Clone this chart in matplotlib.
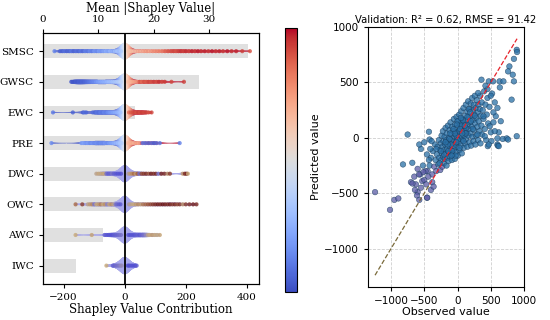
"""Shapley summary (beeswarm + mean |SHAP| bars) and validation scatter."""
import numpy as np
import matplotlib

matplotlib.use("Agg")
import matplotlib.pyplot as plt
from matplotlib.cm import ScalarMappable
from matplotlib.collections import PolyCollection
from matplotlib.colors import LinearSegmentedColormap, Normalize, to_rgba

features = ["SMSC", "GWSC", "EWC", "PRE", "DWC", "OWC", "AWC", "IWC"]
mean_abs_shap = [37.0, 28.1, 16.6, 15.5, 13.9, 13.9, 10.8, 5.9]

# values close to zero hidden under the violins (shared by every feature)
near_zero = [-9, -7, -5, -4, -3, -2, -2, -1, -1, 0, 0, 0, 1, 1, 2, 2, 3, 4, 5, 6, 8]
near_zero_feat = [0.38, 0.40, 0.42, 0.43, 0.44, 0.45, 0.46, 0.47, 0.48, 0.49, 0.50,
                  0.50, 0.51, 0.52, 0.53, 0.54, 0.55, 0.56, 0.57, 0.58, 0.60]
near_zero_feat_low = [0.06, 0.05, 0.04, 0.05, 0.03, 0.04, 0.02, 0.03, 0.05, 0.04, 0.03,
                      0.02, 0.04, 0.05, 0.03, 0.04, 0.06, 0.05, 0.04, 0.03, 0.05]

# per-feature SHAP values and (normalised) feature values
smsc_shap = [-230, -212, -205, -198, -190, -182, -175, -168, -160, -152, -145, -138, -130, -122, -115,
             -108, -100, -92, -85, -78, -70, -62, -55, -48, -40, -32, -25, -18, -12,
             12, 16, 22, 30, 38, 46, 55, 64, 73, 82, 92, 102, 112, 122, 132, 142, 152, 160, 168, 176,
             184, 192, 200, 210, 220, 230, 240, 250, 262, 274, 286, 298, 310, 322, 336, 350, 365, 385, 410]
smsc_feat = [0.12, 0.05, 0.05, 0.08, 0.05, 0.06, 0.10, 0.05, 0.08, 0.06, 0.10, 0.07, 0.12, 0.10, 0.15,
             0.12, 0.18, 0.15, 0.20, 0.18, 0.22, 0.25, 0.22, 0.28, 0.25, 0.30, 0.32, 0.30, 0.35,
             0.62, 0.63, 0.65, 0.64, 0.66, 0.68, 0.67, 0.70, 0.72, 0.70, 0.74, 0.76, 0.78, 0.80, 0.85,
             0.88, 0.90, 0.92, 0.90, 0.93, 0.95, 0.93, 0.96, 0.94, 0.97, 0.95, 0.98, 0.96, 0.97, 0.95,
             0.98, 0.96, 0.97, 0.95, 0.98, 0.96, 0.97, 0.93, 0.90]

gwsc_shap = [-175, -170, -165, -160, -155, -150, -145, -140, -135, -130, -124, -118, -112, -106, -100,
             -94, -88, -82, -76, -70, -64, -58, -52, -46, -40, -34, -28, -22, -16, -12,
             10, 15, 20, 26, 32, 40, 49, 56, 63, 70, 78, 86, 95, 104, 112, 122, 131, 153, 194]
gwsc_feat = [0.02, 0.03, 0.02, 0.04, 0.03, 0.05, 0.04, 0.06, 0.05, 0.07, 0.08, 0.10, 0.12, 0.14, 0.15,
             0.18, 0.20, 0.22, 0.24, 0.25, 0.26, 0.28, 0.30, 0.30, 0.32, 0.33, 0.35, 0.36, 0.38, 0.40,
             0.64, 0.66, 0.68, 0.70, 0.72, 0.75, 0.88, 0.85, 0.90, 0.88, 0.92, 0.90, 0.93, 0.91, 0.95,
             0.92, 0.94, 0.92, 0.93]

ewc_shap = [-235, -170, -137, -132, -126,
            -105, -98, -92, -86, -80, -74, -68, -62, -56, -50, -44, -38, -32, -26, -20, -14,
            14, 20, 26, 32, 38, 44, 50, 56, 62, 70, 78, 88]
ewc_feat = [0.10, 0.05, 0.05, 0.08, 0.06,
            0.08, 0.06, 0.10, 0.08, 0.12, 0.10, 0.14, 0.12, 0.16, 0.18, 0.20, 0.22, 0.24, 0.26, 0.28, 0.32,
            0.85, 0.88, 0.90, 0.92, 0.90, 0.93, 0.91, 0.94, 0.92, 0.93, 0.90, 0.92]

pre_shap = [-240,
            -142, -135, -128, -121, -114, -107, -100, -93, -86, -79, -72, -65, -58, -51, -44, -37, -30,
            -23, -16, -10,
            10, 16, 23, 30, 38, 45,
            59, 68, 78, 88, 96, 104, 115, 180]
pre_feat = [0.15,
            0.20, 0.22, 0.18, 0.20, 0.16, 0.18, 0.15, 0.17, 0.14, 0.16, 0.15, 0.18, 0.16, 0.20, 0.22,
            0.25, 0.28, 0.30, 0.33, 0.36,
            0.66, 0.68, 0.70, 0.68, 0.72, 0.70,
            0.10, 0.08, 0.06, 0.08, 0.05, 0.07, 0.10, 0.12]

dwc_shap = [-93, -86, -79, -72, -66, -60, -54, -48, -42, -36, -30, -24, -18, -12,
            12, 18, 24, 30, 36, 42, 48, 55,
            62, 70, 78, 86, 94, 102, 110, 120, 130, 140, 148, 190, 197, 203, 207]
dwc_feat = [0.45, 0.50, 0.48, 0.52, 0.50, 0.15, 0.10, 0.12, 0.20, 0.10, 0.08, 0.05, 0.06, 0.04,
            0.40, 0.55, 0.60, 0.70, 0.55, 0.75, 0.15, 0.80,
            0.85, 0.90, 0.75, 0.95, 0.88, 0.92, 0.20, 0.95, 0.90, 0.60, 0.85, 0.55, 0.90, 0.95, 0.50]

owc_shap = [-161, -139,
            -121, -114, -107, -100, -93, -86, -79, -72, -65, -58, -51, -44, -37, -30,
            -26, -20, -14,
            14, 20, 28, 36, 44, 52, 60, 68, 76, 84,
            92, 100, 108, 116, 124, 132, 140, 148, 156, 164,
            172, 180, 190, 200, 212, 224, 235]
owc_feat = [0.70, 0.85,
            0.45, 0.55, 0.60, 0.20, 0.50, 0.55, 0.65, 0.50, 0.58, 0.25, 0.52, 0.60, 0.45, 0.20,
            0.15, 0.10, 0.08,
            0.40, 0.45, 0.50, 0.55, 0.60, 0.55, 0.65, 0.70, 0.75, 0.80,
            0.85, 0.90, 0.95, 0.92, 0.98, 0.95, 0.90, 0.96, 0.85, 0.92,
            0.80, 0.88, 0.60, 0.85, 0.90, 0.95, 0.92]

awc_shap = [-161, -108,
            -66, -60, -54, -48, -42, -36, -30, -24, -18, -12,
            12, 18, 24, 30, 36, 42, 48, 54, 59,
            64, 70, 76, 82, 90, 98, 106, 115]
awc_feat = [0.50, 0.52,
            0.10, 0.08, 0.05, 0.06, 0.04, 0.08, 0.10, 0.12, 0.15, 0.18,
            0.05, 0.04, 0.06, 0.05, 0.08, 0.10, 0.06, 0.12, 0.15,
            0.20, 0.30, 0.45, 0.50, 0.55, 0.50, 0.48, 0.52]

iwc_shap = [-60, -39, -34, -29, -24, -19, -14, -10, 10, 14, 19, 24, 29, 34, 39]
iwc_feat = [0.50, 0.10, 0.12, 0.15, 0.18, 0.20, 0.25, 0.30, 0.05, 0.04, 0.05, 0.06, 0.04, 0.05, 0.08]

shap_rows = [smsc_shap, gwsc_shap, ewc_shap, pre_shap, dwc_shap, owc_shap, awc_shap, iwc_shap]
feat_rows = [smsc_feat, gwsc_feat, ewc_feat, pre_feat, dwc_feat, owc_feat, awc_feat, iwc_feat]

# validation scatter: observed vs predicted
obs_val = [
    -450, -420, -400, -380, -370, -350, -340, -330, -320, -310,
    -300, -290, -280, -275, -265, -260, -250, -245, -240, -235,
    -230, -225, -220, -215, -210, -205, -200, -195, -190, -185,
    -180, -175, -170, -165, -160, -155, -150, -145, -140, -135,
    -130, -125, -120, -115, -110, -105, -100, -95, -90, -85,
    -80, -75, -70, -65, -60, -55, -50, -45, -40, -35,
    -30, -25, -20, -15, -10, -5, 0, 5, 10, 15,
    20, 25, 30, 35, 40, 45, 50, 55, 60, 65,
    70, 75, 80, 85, 90, 95, 100, 105, 110, 115,
    120, 125, 130, 135, 140, 145, 150, 155, 160, 165,
    170, 175, 180, 185, 190, 195, 200, 205, 210, 215,
    220, 225, 230, 235, 240, 245, 250, 255, 260, 265,
    270, 275, 280, 285, 290, 300, 305, 310, 315, 320,
    330, 335, 340, 345, 350, 360, 365, 370, 380, 390,
    400, 410, 420, 430, 440, 450, 460, 480, 500, 520,
    -60, -20, 20, -100, 60, 0, -40, 40, 100, -80,
    80, -150, 150, -200, 200, -120, 120, -30, 30, 0,
    -250, -180, -110, -60, -10, 50, 90, 130, 170, 230,
    -320, -270, -140, -90, -20, 70, 110, 190, 260, 300,
    -500, -550, -575, -420, -430, -480, -520, -560, -600, -650,
    -700, -680, -820, -626, -600, -530, -460, -515, -580, -550,
    -1240, -1015, -950, -890, -750, -677, -640, -610, -575, -455,
    -500, -470, -440, -430, -400, -380, -360, -410, -390, -460,
    360, 470, 535, 632, 690, 848, 890, 895, 848, 780,
    760, 830, 636, 813, 600, 575, 600, 680, 740, 600,
    760, 890, 620, 455, 605, 620, 485, 390, 410, 310,
    540, 560, 500, 450, 420, 540, 510, 470, 560, 650,
]
pred_val = [
    -300, -250, -180, -330, -120, -260, -60, -200, -300, -150,
    -80, -240, -20, -180, -110, -290, -50, -200, 20, -140,
    -260, -80, 60, -170, -30, -230, -110, 10, -190, -60,
    90, -140, -20, -250, 40, -100, -180, 110, -40, -210,
    0, -130, 70, -80, -170, 140, -20, -110, 30, -200,
    100, -60, -150, 60, -30, 170, -100, 10, -190, 120,
    -50, 50, -130, 190, 0, -80, 90, -160, 30, 150,
    -40, 210, -110, 70, -10, 130, -70, 240, 20, -140,
    100, 170, -20, 60, 270, -90, 140, 20, 200, -50,
    90, 300, -10, 160, 50, 240, -80, 120, 330, 20,
    190, 80, -40, 260, 140, 40, 310, -70, 200, 100,
    360, 10, 250, 160, -30, 300, 70, 210, 380, 130,
    -60, 270, 20, 180, 340, 100, 230, -20, 300, 150,
    60, 260, 380, -50, 200, 110, 320, 30, 250, 170,
    420, 80, 300, -20, 210, 360, 130, 280, 50, 400,
    -70, 20, 60, -60, 110, -20, 40, 80, 60, -120,
    160, -60, 190, -150, 150, -10, 40, -160, -90, 150,
    -120, -40, 40, 80, 120, 180, -30, 90, 260, 80,
    -100, -230, -120, -160, -40, 40, 110, 230, 200, 30,
    -40, -100, -60, -15, 55, -300, -250, -330, -280, -350,
    -400, -225, -240, -420, -490, -390, -540, -310, -330, -450,
    -490, -650, -560, -547, 30, -412, -470, -520, -560, -540,
    -380, -420, -350, -200, -470, -400, -440, -100, -30, -150,
    525, 510, 510, 510, 510, 510, 795, 775, 713, 645,
    600, 570, 455, 345, 270, 195, -5, -10, -5, -60,
    -15, 15, 50, -75, -70, -75, 105, 195, 15, 405,
    140, 320, 380, 440, 470, 230, -30, -60, 60, 150,
]
r2_text = "Validation: R² = 0.62, RMSE = 91.42"


def lighten(rgba, amount):
    """Blend colours towards white (opaque stand-in for alpha)."""
    rgba = np.atleast_2d(rgba).copy()
    rgba[:, :3] = rgba[:, :3] * amount + (1 - amount)
    return rgba


def fixed_bw(kde):
    # same absolute kernel width (in SHAP units) for every feature
    return 13.0 / np.std(kde.dataset)


def main() -> None:
    plt.rcParams["font.family"] = "DejaVu Sans"
    fig = plt.figure(figsize=(5.5, 3.2), dpi=100)

    # ---- left: SHAP summary ----
    ax = fig.add_axes([0.078, 0.1125, 0.393, 0.785])
    ax_top = ax.twiny()
    ax.set_zorder(ax_top.get_zorder() + 1)
    ax.patch.set_visible(False)

    ypos = np.arange(len(features))
    ax_top.barh(ypos, mean_abs_shap, height=0.45, color="#e0e0e0", zorder=1)
    ax_top.set_xlim(0, 39)
    ax_top.set_xticks([0, 10, 20, 30])

    coolwarm = plt.get_cmap("coolwarm")
    muddy = LinearSegmentedColormap.from_list(
        "muddy", ["#4646d6", "#8a82c2", "#c8aa78", "#a25a3a", "#6a1212"])

    full_shap = []
    for i, (sv, fv) in enumerate(zip(shap_rows, feat_rows)):
        cmap = coolwarm if i < 4 else muddy
        zf = near_zero_feat if i < 4 else near_zero_feat_low
        full_shap.append(list(sv) + near_zero)
        # hidden near-zero points below the violin, the rest above it
        ax.scatter(near_zero, np.full(len(near_zero), i), c=zf, cmap=cmap, vmin=0, vmax=1,
                   s=9, alpha=0.8, linewidths=0, zorder=2)
        ax.scatter(sv, np.full(len(sv), i), c=fv, cmap=cmap, vmin=0, vmax=1,
                   s=9, alpha=0.8, linewidths=0, zorder=4)

    parts = ax.violinplot(full_shap, positions=ypos, orientation="horizontal",
                          widths=0.55, showextrema=False, bw_method=fixed_bw, points=300)
    vnorm = Normalize(-30, 30)
    for i, body in enumerate(parts["bodies"]):
        verts = body.get_paths()[0].vertices
        upper = verts[verts[:, 1] >= ypos[i]]
        upper = upper[np.argsort(upper[:, 0])]
        xs, hw = upper[:, 0], upper[:, 1] - ypos[i]
        polys = [[(xs[k], i - hw[k]), (xs[k + 1], i - hw[k + 1]),
                  (xs[k + 1], i + hw[k + 1]), (xs[k], i + hw[k])]
                 for k in range(len(xs) - 1)]
        if i < 4:
            cols = lighten(coolwarm(vnorm((xs[:-1] + xs[1:]) / 2)), 0.75)
        else:
            cols = lighten(to_rgba("#6f6fe0"), 0.6).repeat(len(polys), axis=0)
        ax.add_collection(PolyCollection(polys, facecolors=cols, edgecolors=cols,
                                         linewidths=0.3, zorder=3))
        body.remove()

    ax.axvline(0, color="black", lw=1.3, zorder=5)
    ax.set_xlim(-268, 440)
    ax.set_ylim(7.6, -0.6)
    ax.set_yticks(ypos)
    ax.set_yticklabels(features)
    ax.set_xticks([-200, 0, 200, 400])

    serif = "DejaVu Serif"
    ax.tick_params(labelsize=7.5, labelfontfamily=serif, length=3)
    ax_top.tick_params(labelsize=7.5, labelfontfamily=serif, length=3)
    ax.set_xlabel("Shapley Value Contribution", fontsize=8.5, family=serif, labelpad=1)
    ax_top.set_xlabel("Mean |Shapley Value|", fontsize=8.5, family=serif, labelpad=2)

    # ---- colorbar ----
    cax = fig.add_axes([0.518, 0.0875, 0.022, 0.825])
    cb = fig.colorbar(ScalarMappable(norm=Normalize(0, 1), cmap="coolwarm"), cax=cax)
    cb.set_ticks([])

    # ---- right: validation scatter ----
    ax2 = fig.add_axes([0.669, 0.103, 0.284, 0.813])
    obs = np.array(obs_val)
    pred = np.array(pred_val)
    colors = np.where(pred < -250, "#5c5ca6", "#2a70a6")
    ax2.scatter(obs, pred, s=16, c=colors, alpha=0.75, edgecolors="#173a5a",
                linewidths=0.4, zorder=3)
    lo = min(obs.min(), pred.min())
    hi = max(obs.max(), pred.max())
    split = -420
    ax2.plot([lo, split], [lo, split], ls="--", color="#7a6a3a", lw=0.9, zorder=4)
    ax2.plot([split, hi], [split, hi], ls="--", color="#e8232b", lw=0.9, zorder=4)
    ax2.set_xticks([-1000, -500, 0, 500, 1000])
    ax2.set_yticks([-1000, -500, 0, 500, 1000])
    ax2.grid(True, ls="--", color="#cfcfcf", lw=0.6)
    ax2.set_axisbelow(True)
    ax2.tick_params(labelsize=7.5, length=3)
    ax2.set_xlabel("Observed value", fontsize=8, labelpad=1)
    ax2.set_ylabel("Predicted value", fontsize=8, labelpad=2)
    ax2.set_title(r2_text, fontsize=7.2, pad=3)

    fig.savefig("out.png", dpi=100)


if __name__ == "__main__":
    main()
